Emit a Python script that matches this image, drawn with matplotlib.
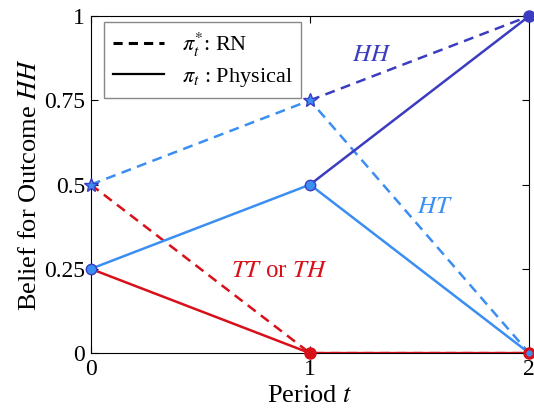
import matplotlib
matplotlib.use("Agg")
import matplotlib.pyplot as plt
from matplotlib.lines import Line2D

plt.rcParams['font.family'] = ['Liberation Serif', 'DejaVu Serif']
plt.rcParams['mathtext.fontset'] = 'stix'

t = [0, 1, 2]
rn_HH = [0.5, 0.75, 1.0]
rn_HT = [0.5, 0.75, 0.0]
rn_T = [0.5, 0.0, 0.0]
phys_HH = [0.25, 0.5, 1.0]
phys_HT = [0.25, 0.5, 0.0]
phys_T = [0.25, 0.0, 0.0]
yticks = [0, 0.25, 0.5, 0.75, 1]
ytick_labels = ['0', '0.25', '0.5', '0.75', '1']

light = '#3b8ef2'
dark = '#3c3cc0'
red = '#d7101a'

fig = plt.figure(figsize=(5.34, 4.13), dpi=100)
ax = fig.add_axes([0.170, 0.145, 0.821, 0.816])

lw = 1.8
dash = (0, (4, 2.6))
# red (TT or TH)
ax.plot(t, rn_T, color=red, lw=lw, ls=dash, zorder=2)
ax.plot(t, phys_T, color=red, lw=lw, zorder=2)
# HT
ax.plot(t, rn_HT, color=light, lw=lw, ls=dash, zorder=3)
ax.plot(t, phys_HT, color=light, lw=lw, zorder=3)
# HH second segments
ax.plot(t[1:], rn_HH[1:], color=dark, lw=lw, ls=dash, zorder=4)
ax.plot(t[1:], phys_HH[1:], color=dark, lw=lw, zorder=4)

# markers
ax.plot(t[:2], phys_HH[:2], 'o', color=light, mec=dark, mew=1, ms=7.5, zorder=6, clip_on=False)
ax.plot(t[:2], rn_HH[:2], '*', color=light, mec=dark, mew=1, ms=10, zorder=6, clip_on=False)
ax.plot(t[1:], phys_T[1:], 'o', color=red, mec=red, ms=8, zorder=5, clip_on=False)
ax.plot([t[2]], [phys_HT[2]], 'o', color=light, ms=3.5, zorder=6, clip_on=False)
ax.plot([t[2]], [phys_HH[2]], 'o', color=dark, ms=8, zorder=6, clip_on=False)

ax.text(1.28, 0.885, '$HH$', color=dark, fontsize=18, ha='center', va='center')
ax.text(1.57, 0.435, '$HT$', color=light, fontsize=18, ha='center', va='center')
ax.text(0.86, 0.243, r'$TT$ or $TH$', color=red, fontsize=18, ha='center', va='center')

ax.set_xlim(0, 2)
ax.set_ylim(0, 1)
ax.set_xticks([0, 1, 2])
ax.set_yticks(yticks)
ax.set_yticklabels(ytick_labels)
ax.tick_params(direction='in', top=True, right=True, labelsize=17, length=5, width=0.8, pad=4)
ax.set_xlabel('Period $t$', fontsize=19, labelpad=4)
ax.set_ylabel('Belief for Outcome $HH$', fontsize=19, labelpad=2)

handles = [Line2D([], [], color='black', lw=2.2, ls=(0, (3, 2))),
           Line2D([], [], color='black', lw=1.6)]
ax.legend(handles, [r'$\pi_t^{*}$: RN', r'$\pi_t$ : Physical'], loc='upper left',
          fontsize=16, fancybox=False, edgecolor='#888888', framealpha=1,
          handlelength=2.3, borderpad=0.4, labelspacing=0.3, borderaxespad=0,
          bbox_to_anchor=(0.030, 0.982))

fig.savefig('out.png', dpi=100)
